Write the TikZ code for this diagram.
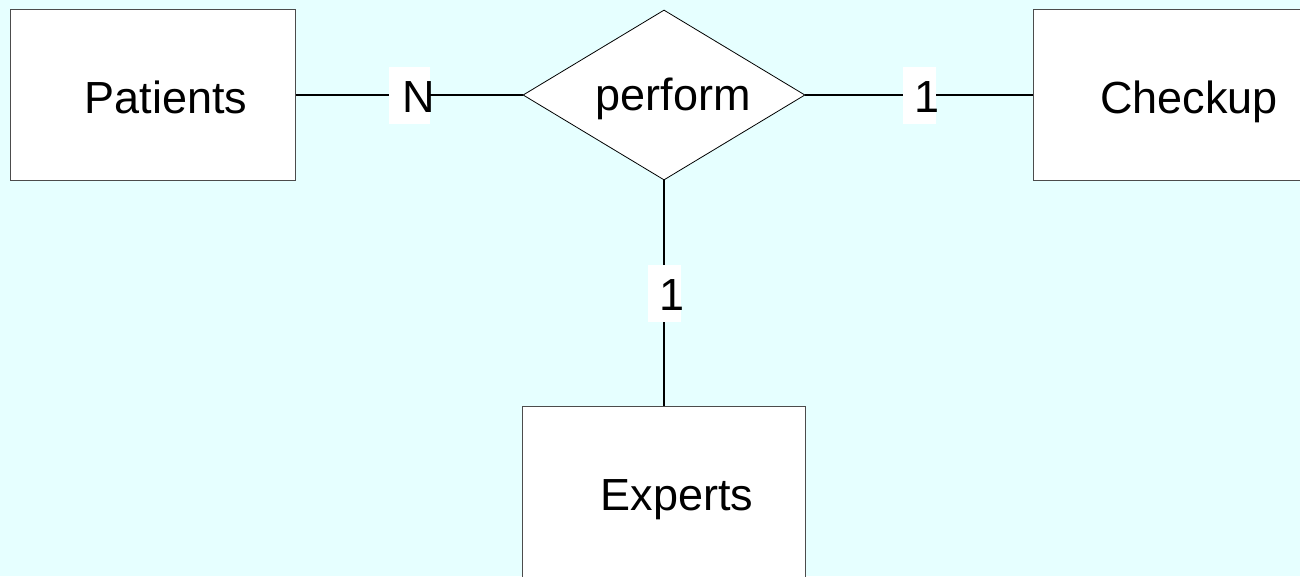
\documentclass[tikz,border=0pt]{standalone}
\usepackage{fontspec}
\setmainfont{Liberation Sans}
\usetikzlibrary{shapes.geometric}
\definecolor{BgCyan}{RGB}{230,255,255}

\begin{document}
\begin{tikzpicture}[x=1pt,y=-1pt,font=\fontsize{45}{54}\selectfont]
	\useasboundingbox (0,0) rectangle (1300,576);
	\fill[BgCyan] (0,0) rectangle (1300,576);
	\clip (0,0) rectangle (1300,576);
	\tikzstyle{EntityStyle}=[draw=black!70,fill=white,line width=0.8pt,minimum width=285pt,minimum height=171pt,text height=36pt,text depth=0pt]
	\tikzstyle{RelStyle}=[draw,diamond,fill=white,line width=0.8pt,aspect=1.66,inner sep=0pt,minimum width=282pt,minimum height=170pt,text height=31pt,text depth=0pt]
	\tikzstyle{CardStyle}=[fill=white,inner sep=0pt,minimum height=57pt,text height=35pt,text depth=0pt]
	\tikzstyle{EdgeStyle}=[line width=1.2pt]
	\node[EntityStyle] (Patients) at (153,95) {\hspace*{26pt}Patients};
	\node[RelStyle] (perform) at (664,95) {\hspace*{18pt}perform};
	\node[EntityStyle] (Checkup) at (1176,95) {\hspace*{26pt}Checkup};
	\node[EntityStyle,minimum width=283pt] (Experts) at (664,492) {\hspace*{26pt}Experts};
	\draw[EdgeStyle] (Patients) -- node[CardStyle] {\makebox[41pt][l]{\hspace*{14pt}N}} (perform);
	\draw[EdgeStyle] (perform) -- node[CardStyle] {\makebox[33pt][l]{\hspace*{12pt}1}} (Checkup);
	\draw[EdgeStyle] (perform) -- node[CardStyle] {\makebox[33pt][l]{\hspace*{12pt}1}} (Experts);
\end{tikzpicture}
\end{document}
